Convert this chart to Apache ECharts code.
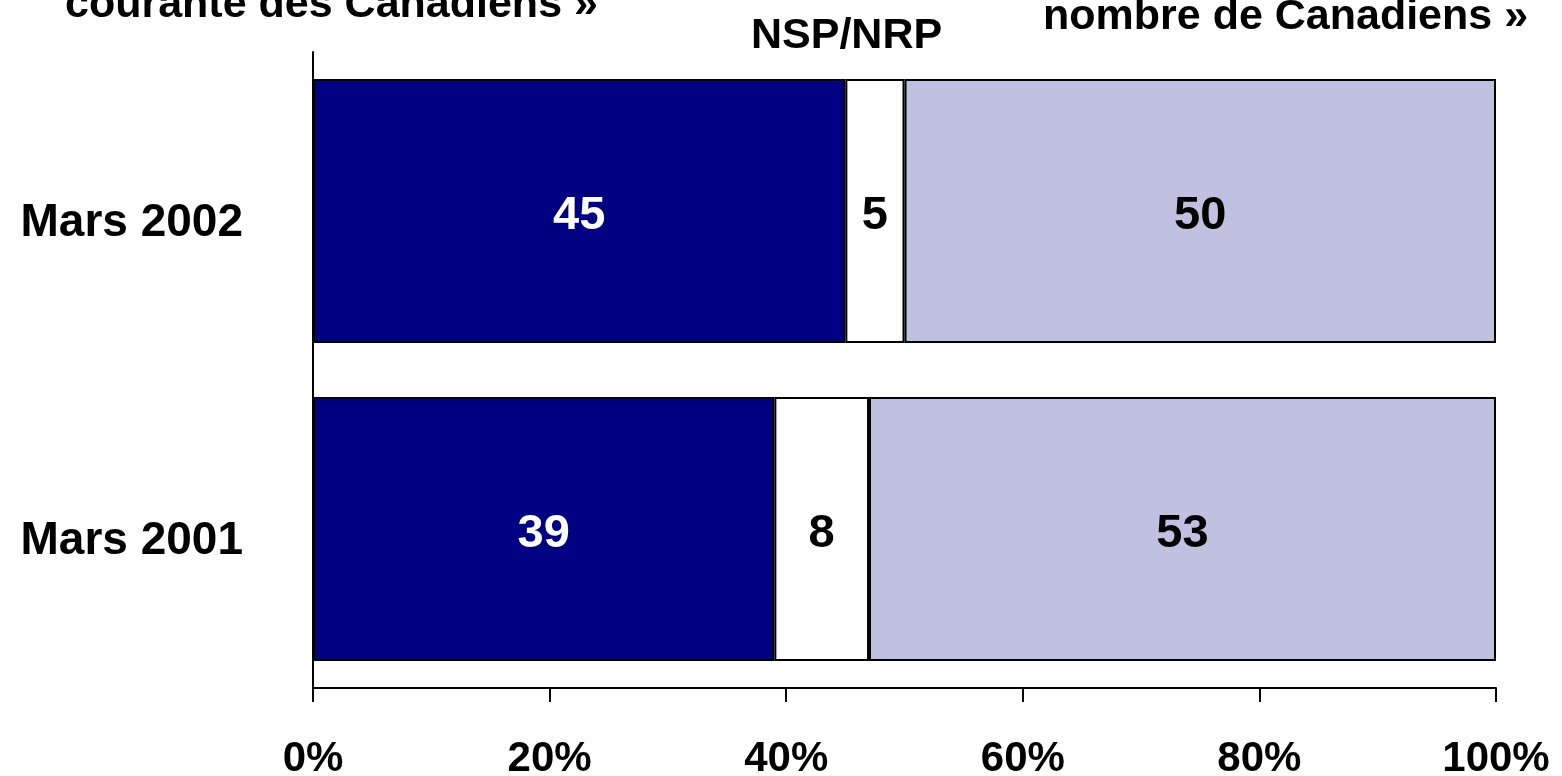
<!DOCTYPE html>
<html>
<head>
<meta charset="utf-8">
<script src="https://cdn.jsdelivr.net/npm/echarts@6/dist/echarts.min.js"></script>
<style>
  html, body { margin: 0; padding: 0; background: #ffffff; }
  #chart { width: 1562px; height: 776px; }
</style>
</head>
<body>
<div id="chart"></div>
<script>
// categories, bottom to top on the category axis
const categories = ['Mars 2001', 'Mars 2002'];
const seriesNames = ['… courante des Canadiens »', 'NSP/NRP', '… nombre de Canadiens »'];
const courante = [39, 45];
const nspNrp = [8, 5];
const nombre = [53, 50];
const xTicks = [0, 20, 40, 60, 80, 100];

const FONT = "'Liberation Sans', Arial, sans-serif";

const myChart = echarts.init(document.getElementById('chart'));

function makeSeries(name, data, color, labelColor) {
  return {
    name: name,
    type: 'bar',
    stack: 'total',
    data: data,
    barCategoryGap: '17%',
    itemStyle: { color: color, borderColor: '#000000', borderWidth: 2 },
    label: {
      show: true,
      position: 'inside',
      offset: [0, 5],
      color: labelColor,
      fontFamily: FONT,
      fontWeight: 'bold',
      fontSize: 47
    },
    emphasis: { disabled: true }
  };
}

const option = {
  animation: false,
  backgroundColor: '#ffffff',
  grid: { left: 313, right: 66, top: 52, bottom: 88, outerBoundsMode: 'none', containLabel: false },
  xAxis: {
    type: 'value',
    min: xTicks[0],
    max: xTicks[xTicks.length - 1],
    interval: 20,
    axisLine: { show: true, lineStyle: { color: '#000000', width: 2 } },
    axisTick: { show: true, length: 14, lineStyle: { color: '#000000', width: 2 } },
    splitLine: { show: false },
    axisLabel: {
      formatter: '{value}%',
      color: '#000000',
      fontFamily: FONT,
      fontWeight: 'bold',
      fontSize: 42,
      margin: 50
    }
  },
  yAxis: {
    type: 'category',
    data: categories,
    axisLine: { show: true, lineStyle: { color: '#000000', width: 2 } },
    axisTick: { show: false },
    axisLabel: {
      color: '#000000',
      fontFamily: FONT,
      fontWeight: 'bold',
      fontSize: 46,
      margin: 70,
      verticalAlign: 'top',
      lineHeight: 24
    }
  },
  series: [
    makeSeries(seriesNames[0], courante, '#000080', '#ffffff'),
    makeSeries(seriesNames[1], nspNrp, '#ffffff', '#000000'),
    makeSeries(seriesNames[2], nombre, '#C0C0E0', '#000000')
  ],
  graphic: [
    {
      type: 'text', left: 65, top: -16,
      style: { text: 'courante des Canadiens »', font: 'bold 43px ' + FONT, fill: '#000000' }
    },
    {
      type: 'text', left: 751, top: 15,
      style: { text: 'NSP/NRP', font: 'bold 43px ' + FONT, fill: '#000000' }
    },
    {
      type: 'text', left: 1043, top: -4,
      style: { text: 'nombre de Canadiens »', font: 'bold 43px ' + FONT, fill: '#000000' }
    }
  ]
};

myChart.setOption(option);
window.addEventListener('resize', () => myChart.resize());
</script>
</body>
</html>
